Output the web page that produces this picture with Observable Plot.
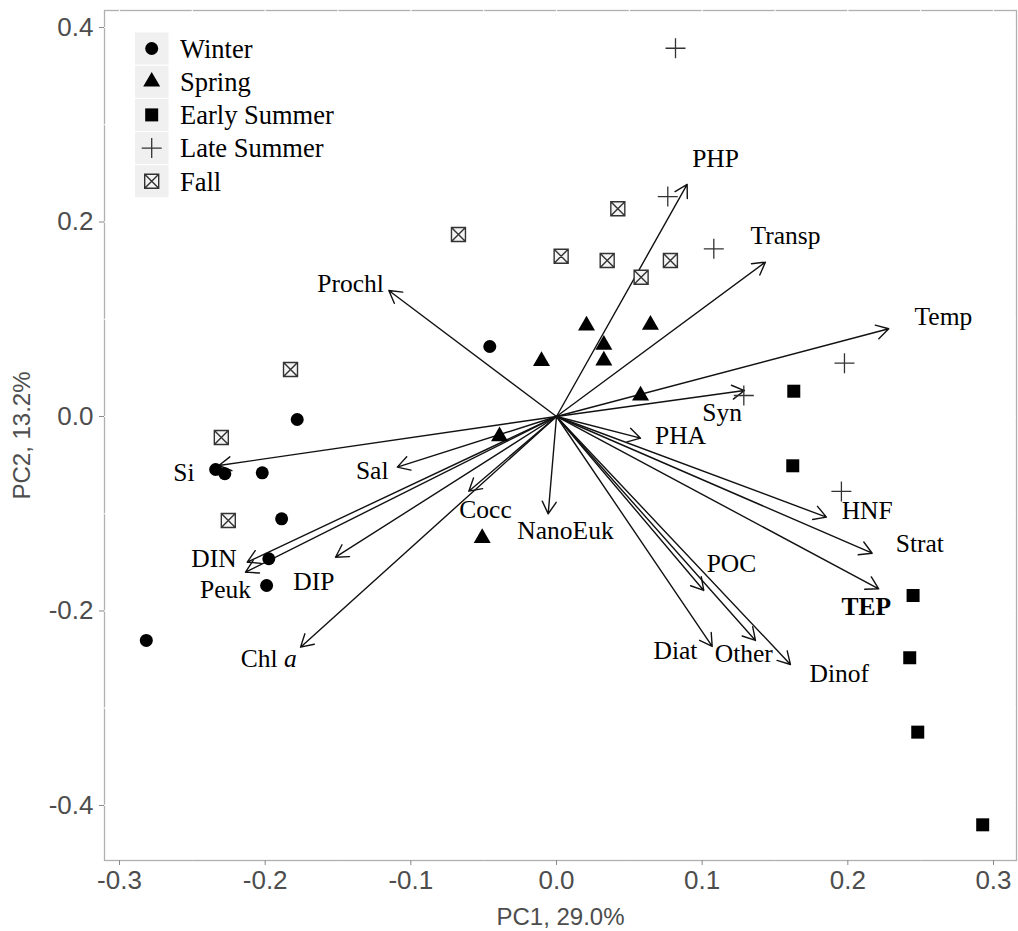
<!DOCTYPE html>
<html><head><meta charset="utf-8">
<script src="https://cdn.jsdelivr.net/npm/d3@7"></script>
<script src="https://cdn.jsdelivr.net/npm/@observablehq/plot@0.6"></script>
<style>
body{margin:0;background:#fff;}
#wrap{position:relative;width:1018px;height:931px;}
#legend{position:absolute;left:0;top:0;}
</style></head><body><div id="wrap"></div>
<script>
// ---- Site scores (PC1, PC2) by season ----
const seasons = ["Winter", "Spring", "Early Summer", "Late Summer", "Fall"];
const winterPC1 = [-0.0458, -0.178, -0.234, -0.2277, -0.202, -0.1887, -0.1975, -0.199, -0.2816];
const winterPC2 = [0.0720, -0.0031, -0.0545, -0.0589, -0.0579, -0.1052, -0.1463, -0.1738, -0.2303];
const springPC1 = [0.0206, 0.0645, 0.0325, -0.0103, 0.0325, 0.0577, -0.0391, -0.0510];
const springPC2 = [0.0936, 0.0943, 0.0737, 0.0569, 0.0576, 0.0216, -0.0203, -0.1251];
const earlySummerPC1 = [0.1629, 0.1622, 0.2448, 0.2425, 0.2480, 0.2926];
const earlySummerPC2 = [0.0260, -0.0507, -0.1841, -0.2481, -0.3246, -0.4199];
const lateSummerPC1 = [0.0817, 0.0764, 0.1080, 0.1977, 0.1286, 0.1956];
const lateSummerPC2 = [0.3787, 0.2262, 0.1724, 0.0548, 0.0216, -0.0771];
const fallPC1 = [0.0421, 0.0032, 0.0348, 0.0581, 0.0782, -0.0673, -0.1826, -0.2301, -0.2253];
const fallPC2 = [0.2136, 0.1648, 0.1604, 0.1432, 0.1604, 0.1871, 0.0483, -0.0216, -0.1069];

// ---- Variable loadings (arrow tips) and label anchors ----
const varNames = ["PHP", "Transp", "Temp", "Syn", "PHA", "HNF", "Strat", "TEP", "Dinof", "Other", "Diat", "POC", "NanoEuk", "Cocc", "Sal", "Si", "DIN", "Peuk", "DIP", "Chl a", "Prochl"];
const varPC1 = [0.0897, 0.1434, 0.2281, 0.1290, 0.0577, 0.1853, 0.2167, 0.2212, 0.1606, 0.1366, 0.1069, 0.1011, -0.0057, -0.0602, -0.1093, -0.2318, -0.2123, -0.2135, -0.1517, -0.1757, -0.1151];
const varPC2 = [0.2386, 0.1587, 0.0902, 0.0267, -0.0223, -0.1035, -0.1406, -0.1772, -0.2550, -0.2303, -0.2365, -0.1789, -0.1001, -0.0768, -0.0521, -0.0504, -0.1498, -0.1601, -0.1447, -0.2372, 0.1296];
const labelPC1 = [0.1092, 0.1572, 0.2656, 0.1137, 0.0851, 0.2133, 0.2494, 0.2126, 0.1942, 0.1286, 0.0817, 0.1201, 0.0062, -0.0487, -0.1265, -0.2558, -0.2352, -0.2272, -0.1666, -0.1975, -0.1414];
const labelPC2 = [0.2650, 0.1861, 0.1028, 0.0034, -0.0195, -0.0967, -0.1309, -0.1961, -0.2646, -0.2440, -0.2413, -0.1515, -0.1172, -0.0959, -0.0555, -0.0583, -0.1463, -0.1782, -0.1704, -0.2492, 0.1365];

// ---- Axis ticks ----
const xTicks = [-0.3, -0.2, -0.1, 0.0, 0.1, 0.2, 0.3];
const yTicks = [-0.4, -0.2, 0.0, 0.2, 0.4];
const xGrid = [-0.3, -0.25, -0.2, -0.15, -0.1, -0.05, 0, 0.05, 0.1, 0.15, 0.2, 0.25, 0.3];
const yGrid = [-0.4, -0.3, -0.2, -0.1, 0, 0.1, 0.2, 0.3, 0.4];

// ---- custom symbols ----
const rad = s => Math.sqrt(s / Math.PI);
const symPlus = {draw(c, s){const r = rad(s); c.moveTo(-r,0); c.lineTo(r,0); c.moveTo(0,-r); c.lineTo(0,r);}};
const symBoxX = {draw(c, s){const r = rad(s); c.moveTo(-r,-r); c.lineTo(r,-r); c.lineTo(r,r); c.lineTo(-r,r); c.closePath(); c.moveTo(-r,-r); c.lineTo(r,r); c.moveTo(r,-r); c.lineTo(-r,r);}};
const symTri = {draw(c, s){const r = rad(s); const h = r*Math.sqrt(3); c.moveTo(0,-h*2/3); c.lineTo(r,h/3); c.lineTo(-r,h/3); c.closePath();}};
const symSq = {draw(c, s){const r = rad(s); c.rect(-r,-r,2*r,2*r);}};

const pts = (xs, ys) => xs.map((x, i) => ({pc1: x, pc2: ys[i]}));
const winter = pts(winterPC1, winterPC2);
const spring = pts(springPC1, springPC2);
const earlyS = pts(earlySummerPC1, earlySummerPC2);
const lateS = pts(lateSummerPC1, lateSummerPC2);
const fall = pts(fallPC1, fallPC2);
const vars = varNames.map((n, i) => ({name: n, pc1: varPC1[i], pc2: varPC2[i], lx: labelPC1[i], ly: labelPC2[i]}));

const fmt = d => d.toFixed(1);
const serif = "Liberation Serif, Times New Roman, serif";

const plot = Plot.plot({
  width: 1018, height: 931,
  marginLeft: 104, marginRight: 2, marginTop: 10, marginBottom: 71,
  style: {fontFamily: "Liberation Sans, Arial, sans-serif", fontSize: "26px", color: "#4d4d4d", background: "#fff"},
  x: {domain: [-0.3103, 0.3158]},
  y: {domain: [-0.4566, 0.4175]},
  marks: [
    Plot.frame({stroke: "#b0b0b0", strokeWidth: 1.3}),
    Plot.gridX(xGrid, {stroke: "#fff", strokeOpacity: 1, strokeWidth: 1.2}),
    Plot.gridY(yGrid, {stroke: "#fff", strokeOpacity: 1, strokeWidth: 1.2}),
    Plot.axisX({ticks: xTicks, tickFormat: fmt, tickSize: 5, tickPadding: 5, stroke: "#888", label: "PC1, 29.0%", labelArrow: false, labelAnchor: "center", labelOffset: 64}),
    Plot.axisY({ticks: yTicks, tickFormat: fmt, tickSize: 5, tickPadding: 6, stroke: "#888", label: "PC2, 13.2%", labelArrow: false, labelAnchor: "center", labelOffset: 92}),
    Plot.arrow(vars, {x1: () => 0, y1: () => 0, x2: "pc1", y2: "pc2", stroke: "#111", strokeWidth: 1.4, headLength: 15, headAngle: 60}),
    Plot.dot(winter, {x: "pc1", y: "pc2", r: 6.5, fill: "#000", stroke: "none"}),
    Plot.dot(spring, {x: "pc1", y: "pc2", r: 8.5, symbol: symTri, fill: "#000", stroke: "none"}),
    Plot.dot(earlyS, {x: "pc1", y: "pc2", r: 6.5, symbol: symSq, fill: "#000", stroke: "none"}),
    Plot.dot(lateS, {x: "pc1", y: "pc2", r: 10, symbol: symPlus, fill: "none", stroke: "#333", strokeWidth: 1.3}),
    Plot.dot(fall, {x: "pc1", y: "pc2", r: 7, symbol: symBoxX, fill: "#f4f4f4", stroke: "#333", strokeWidth: 1.4}),
    Plot.text(vars.filter(d => d.name !== "TEP"), {x: "lx", y: "ly", text: "name", fontFamily: serif, fontSize: 25.5, fill: "#000", textAnchor: "middle", lineAnchor: "middle"}),
    Plot.text(vars.filter(d => d.name === "TEP"), {x: "lx", y: "ly", text: "name", fontFamily: serif, fontSize: 25.5, fontWeight: "bold", fill: "#000", textAnchor: "middle", lineAnchor: "middle"})
  ]
});
document.getElementById("wrap").appendChild(plot);

// axis-title cleanup, sizes & italic "a"
d3.select(plot).selectAll('[aria-label="x-axis label"] text, [aria-label="y-axis label"] text')
  .attr("font-size", 24)
  .each(function(){ this.textContent = this.textContent.replace(/\s*[→←↑↓]\s*/g, ""); });
d3.select(plot).selectAll("text").each(function(){
  if (this.textContent === "Chl a") { this.innerHTML = 'Chl <tspan font-style="italic">a</tspan>'; }
});

// ---- legend ----
const legSyms = [
  {sym: d3.symbolCircle, r: 6.5, fill: "#000", stroke: "none", sw: 0},
  {sym: symTri, r: 8.5, fill: "#000", stroke: "none", sw: 0},
  {sym: symSq, r: 6.5, fill: "#000", stroke: "none", sw: 0},
  {sym: symPlus, r: 10, fill: "none", stroke: "#333", sw: 1.3},
  {sym: symBoxX, r: 7, fill: "#f4f4f4", stroke: "#333", sw: 1.4}
];
const leg = d3.select("#wrap").append("svg").attr("id", "legend").attr("width", 400).attr("height", 220);
seasons.forEach((s, i) => {
  const y0 = 32.5 + i * 33.2;
  const g = leg.append("g");
  g.append("rect").attr("x", 135).attr("y", y0).attr("width", 33.5).attr("height", 32).attr("fill", "#f0f0f0");
  g.append("path").attr("transform", `translate(151.7,${y0 + 16})`)
    .attr("d", d3.symbol().type(legSyms[i].sym).size(legSyms[i].r * legSyms[i].r * Math.PI)())
    .attr("fill", legSyms[i].fill).attr("stroke", legSyms[i].stroke).attr("stroke-width", legSyms[i].sw);
  g.append("text").attr("x", 180).attr("y", y0 + 16).attr("dy", "0.35em")
    .attr("font-family", serif).attr("font-size", 26.5).attr("fill", "#000").text(s);
});
</script></body></html>
